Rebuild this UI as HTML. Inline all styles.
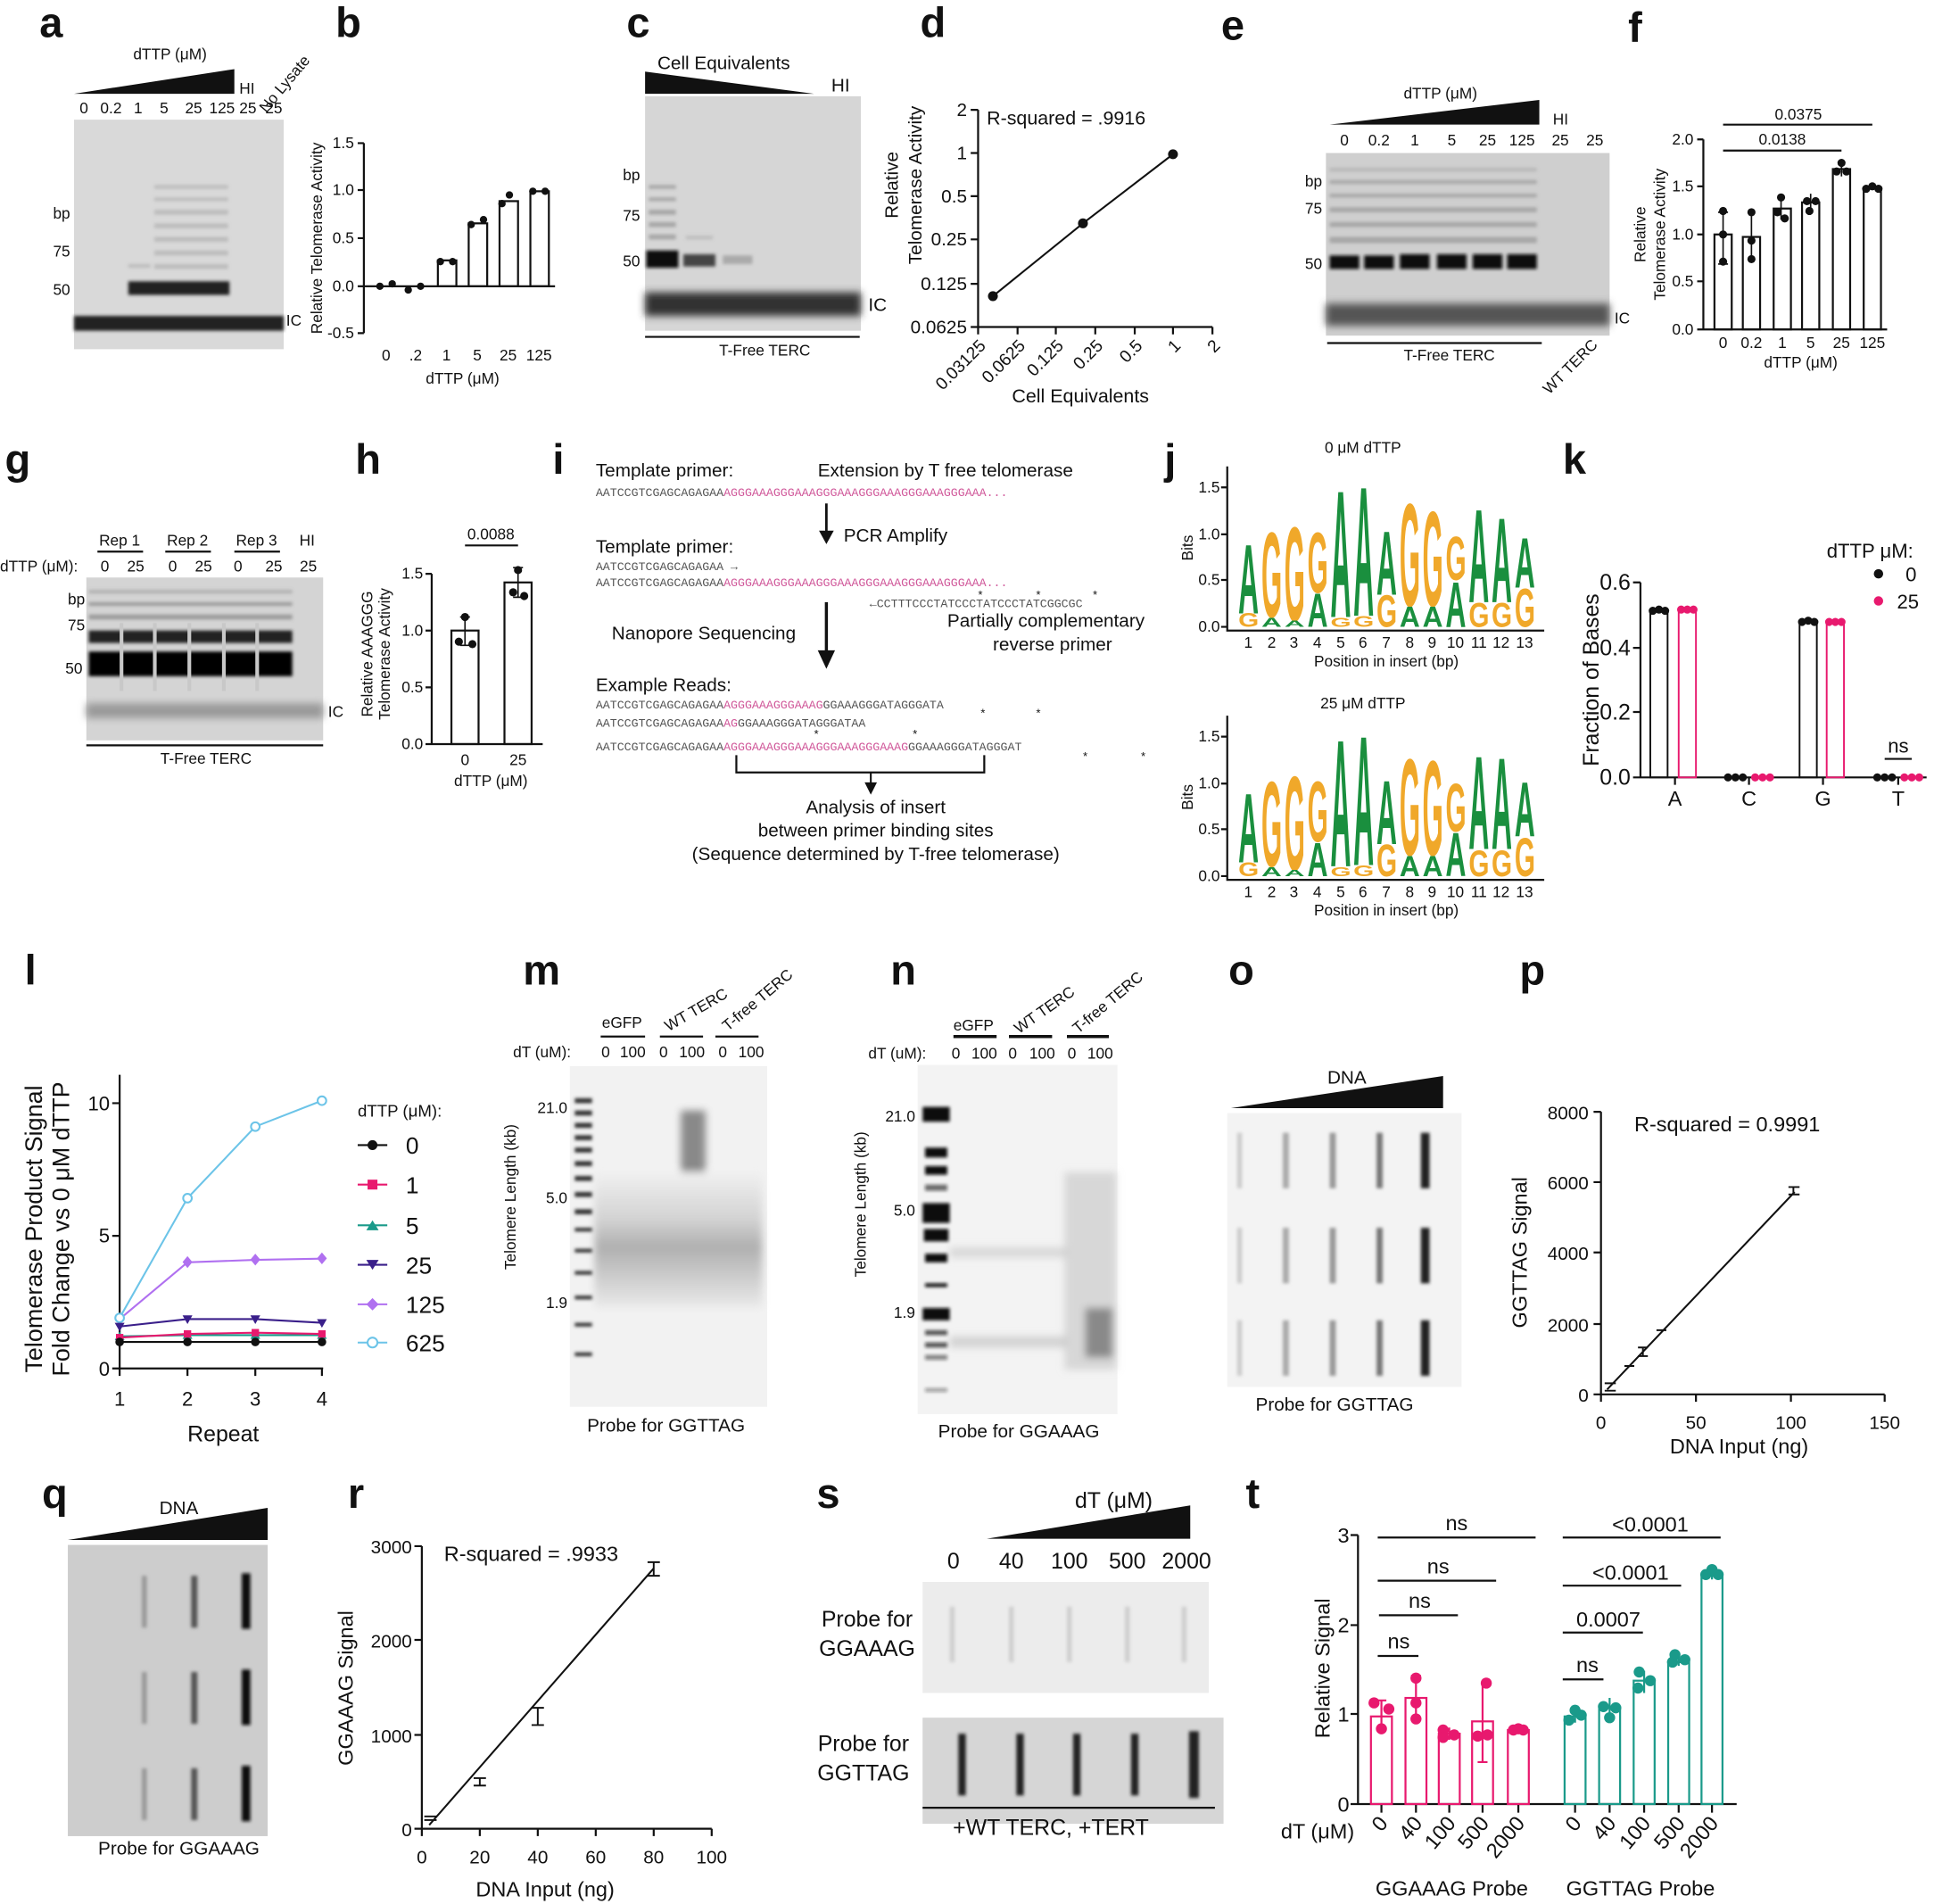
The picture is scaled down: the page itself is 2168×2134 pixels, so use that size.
<!DOCTYPE html>
<html><head><meta charset="utf-8"><style>
html,body{margin:0;padding:0;background:#fff}
svg{display:block}
text{font-family:"Liberation Sans",sans-serif;fill:#111}
.m{font-family:"Liberation Mono",monospace;font-size:9.6px;fill:#555}
.p{fill:#d0589a}
.L{font-size:34px;font-weight:bold}
.t{font-size:12.5px}
.s{font-size:15px}
.ax{stroke:#111;stroke-width:1.6;fill:none}
.g{font-weight:bold;fill:#1a8f3e}
.y{font-weight:bold;fill:#f0a82a}
</style></head><body>
<svg width="2168" height="2134" viewBox="0 0 1568 1543" preserveAspectRatio="none" xmlns="http://www.w3.org/2000/svg">
<defs>
<filter id="b" x="-20%" y="-50%" width="140%" height="200%"><feGaussianBlur stdDeviation="1.4"/></filter>
<filter id="b3" x="-20%" y="-50%" width="140%" height="200%"><feGaussianBlur stdDeviation="3"/></filter>
<linearGradient id="gm" x1="0" y1="0" x2="0" y2="1"><stop offset="0" stop-color="#f0f0f0"/><stop offset="0.35" stop-color="#c8c8c8"/><stop offset="0.55" stop-color="#9a9a9a"/><stop offset="1" stop-color="#e8e8e8"/></linearGradient>
</defs>
<rect width="1568" height="1543" fill="#fff"/>

<!-- panel labels -->
<text class="L" x="32" y="30">a</text><text class="L" x="272" y="30">b</text><text class="L" x="508" y="30">c</text><text class="L" x="746" y="30">d</text><text class="L" x="990" y="32">e</text><text class="L" x="1320" y="34">f</text>
<text class="L" x="4" y="384">g</text><text class="L" x="288" y="384">h</text><text class="L" x="448" y="384">i</text><text class="L" x="944" y="384">j</text><text class="L" x="1267" y="384">k</text>
<text class="L" x="20" y="798">l</text><text class="L" x="424" y="798">m</text><text class="L" x="722" y="798">n</text><text class="L" x="996" y="798">o</text><text class="L" x="1232" y="798">p</text>
<text class="L" x="34" y="1222">q</text><text class="L" x="282" y="1222">r</text><text class="L" x="662" y="1222">s</text><text class="L" x="1010" y="1222">t</text>

<!-- a -->
<text class="t" x="108" y="48">dTTP (μM)</text>
<polygon points="60,76 190,56 190,76" fill="#111"/>
<text class="t" x="194" y="76">HI</text>
<text class="t" transform="translate(216,92) rotate(-50)">No Lysate</text>
<g class="t" text-anchor="middle"><text x="68" y="92">0</text><text x="90" y="92">0.2</text><text x="112" y="92">1</text><text x="133" y="92">5</text><text x="157" y="92">25</text><text x="180" y="92">125</text><text x="201" y="92">25</text><text x="222" y="92">25</text></g>
<rect x="60" y="97" width="170" height="186" fill="#d9d9d9"/>
<g filter="url(#b)">
<g fill="#222"><rect x="60" y="256" width="170" height="12"/></g>
<g fill="#222"><rect x="104" y="228" width="82" height="11"/></g>
<g fill="#999" opacity="0.45"><rect x="125" y="214" width="60" height="4"/><rect x="125" y="203" width="60" height="4"/><rect x="125" y="192" width="60" height="4"/><rect x="125" y="181" width="60" height="4"/><rect x="125" y="170" width="60" height="4"/><rect x="125" y="160" width="60" height="3"/><rect x="125" y="150" width="60" height="3"/><rect x="104" y="214" width="18" height="3"/></g>
</g>
<text class="t" x="43" y="177">bp</text><text class="t" x="43" y="208">75</text><text class="t" x="43" y="239">50</text><text class="t" x="232" y="264">IC</text>

<!-- b -->
<path class="ax" d="M295,116 V270 M290,116 H295 M290,154 H295 M290,193 H295 M290,232 H295 M290,270 H295 M295,232 H450"/>
<g class="t" text-anchor="end"><text x="287" y="120">1.5</text><text x="287" y="158">1.0</text><text x="287" y="197">0.5</text><text x="287" y="236">0.0</text><text x="287" y="274">-0.5</text></g>
<g class="ax"><rect x="355" y="211" width="15" height="21"/><rect x="380" y="181" width="15" height="51"/><rect x="405" y="163" width="15" height="69"/><rect x="430" y="155" width="15" height="77"/></g>
<g fill="#111"><circle cx="308" cy="232" r="3"/><circle cx="318" cy="230" r="3"/><circle cx="331" cy="235" r="3"/><circle cx="341" cy="232" r="3"/><circle cx="357" cy="212" r="3"/><circle cx="367" cy="212" r="3"/><circle cx="382" cy="182" r="3"/><circle cx="392" cy="178" r="3"/><circle cx="407" cy="165" r="3"/><circle cx="413" cy="158" r="3"/><circle cx="432" cy="155" r="3"/><circle cx="442" cy="155" r="3"/></g>
<g class="t" text-anchor="middle"><text x="313" y="292">0</text><text x="337" y="292">.2</text><text x="362" y="292">1</text><text x="387" y="292">5</text><text x="412" y="292">25</text><text x="437" y="292">125</text></g>
<text class="t" x="375" y="311" text-anchor="middle">dTTP (μM)</text>
<text class="t" transform="translate(261,193) rotate(-90)" text-anchor="middle">Relative Telomerase Activity</text>

<!-- c -->
<text class="s" x="533" y="56">Cell Equivalents</text>
<polygon points="523,58 523,76 660,76" fill="#111"/>
<text class="s" x="674" y="74">HI</text>
<rect x="523" y="78" width="175" height="190" fill="#d6d6d6"/>
<g filter="url(#b3)"><rect x="523" y="237" width="175" height="19" fill="#333"/></g>
<g filter="url(#b)"><rect x="524" y="203" width="26" height="14" fill="#111"/><rect x="554" y="206" width="26" height="10" fill="#444"/><rect x="586" y="207" width="24" height="7" fill="#aaa"/>
<g fill="#888" opacity=".6"><rect x="526" y="190" width="22" height="4"/><rect x="526" y="180" width="22" height="4"/><rect x="526" y="170" width="22" height="4"/><rect x="526" y="160" width="22" height="3"/><rect x="526" y="150" width="22" height="3"/><rect x="556" y="191" width="22" height="3" opacity=".5"/></g></g>
<text class="t" x="505" y="146">bp</text><text class="t" x="505" y="179">75</text><text class="t" x="505" y="216">50</text><text class="s" x="704" y="252">IC</text>
<path class="ax" d="M523,273 H697"/><text class="t" x="620" y="288" text-anchor="middle">T-Free TERC</text>

<!-- d -->
<path class="ax" d="M793,89 V265 H983 M787,89 H793 M787,124 H793 M787,159 H793 M787,194 H793 M787,230 H793 M787,265 H793 M793,265 V271 M825,265 V271 M856,265 V271 M888,265 V271 M920,265 V271 M951,265 V271 M983,265 V271"/>
<g text-anchor="end" font-size="15"><text x="784" y="94">2</text><text x="784" y="129">1</text><text x="784" y="164">0.5</text><text x="784" y="199">0.25</text><text x="784" y="235">0.125</text><text x="784" y="270">0.0625</text></g>
<g text-anchor="end" font-size="14"><text transform="translate(800,281) rotate(-45)">0.03125</text><text transform="translate(832,281) rotate(-45)">0.0625</text><text transform="translate(863,281) rotate(-45)">0.125</text><text transform="translate(895,281) rotate(-45)">0.25</text><text transform="translate(927,281) rotate(-45)">0.5</text><text transform="translate(958,281) rotate(-45)">1</text><text transform="translate(990,281) rotate(-45)">2</text></g>
<text x="800" y="101" font-size="15.5">R-squared = .9916</text>
<path d="M805,240 L878,181 L951,125" stroke="#111" stroke-width="1.5" fill="none"/>
<g fill="#111"><circle cx="805" cy="240" r="4"/><circle cx="878" cy="181" r="4"/><circle cx="951" cy="125" r="4"/></g>
<text x="876" y="326" text-anchor="middle" font-size="15.5">Cell Equivalents</text>
<text font-size="15" transform="translate(728,150) rotate(-90)" text-anchor="middle">Relative</text>
<text font-size="15" transform="translate(747,150) rotate(-90)" text-anchor="middle">Telomerase Activity</text>

<!-- e -->
<text class="t" x="1138" y="80">dTTP (μM)</text>
<polygon points="1078,101 1248,81 1248,101" fill="#111"/>
<text class="t" x="1259" y="101">HI</text>
<g class="t" text-anchor="middle"><text x="1090" y="118">0</text><text x="1118" y="118">0.2</text><text x="1147" y="118">1</text><text x="1177" y="118">5</text><text x="1206" y="118">25</text><text x="1234" y="118">125</text><text x="1265" y="118">25</text><text x="1293" y="118">25</text></g>
<rect x="1075" y="124" width="230" height="148" fill="#cfcfcf"/>
<g filter="url(#b3)"><rect x="1075" y="246" width="230" height="18" fill="#555"/></g>
<g filter="url(#b)"><g fill="#111"><rect x="1078" y="207" width="24" height="11"/><rect x="1106" y="207" width="24" height="11"/><rect x="1135" y="206" width="24" height="12"/><rect x="1165" y="206" width="24" height="12"/><rect x="1194" y="206" width="24" height="12"/><rect x="1222" y="206" width="24" height="12"/></g>
<g fill="#777" opacity=".45"><rect x="1078" y="192" width="168" height="5"/><rect x="1078" y="180" width="168" height="4"/><rect x="1078" y="168" width="168" height="4"/><rect x="1078" y="157" width="168" height="3"/><rect x="1078" y="146" width="168" height="3"/><rect x="1078" y="136" width="168" height="3" opacity=".6"/></g></g>
<text class="t" x="1058" y="151">bp</text><text class="t" x="1058" y="173">75</text><text class="t" x="1058" y="218">50</text><text class="t" x="1309" y="262">IC</text>
<path class="ax" d="M1076,278 H1250"/><text class="t" x="1175" y="292" text-anchor="middle">T-Free TERC</text>
<text class="t" transform="translate(1256,320) rotate(-45)">WT TERC</text>

<!-- f -->
<path class="ax" d="M1381,113 V267 H1530 M1376,113 H1381 M1376,151 H1381 M1376,190 H1381 M1376,228 H1381 M1376,267 H1381"/>
<g class="t" text-anchor="end"><text x="1373" y="117">2.0</text><text x="1373" y="155">1.5</text><text x="1373" y="194">1.0</text><text x="1373" y="232">0.5</text><text x="1373" y="271">0.0</text></g>
<g class="ax"><rect x="1390" y="190" width="14" height="77"/><rect x="1413" y="192" width="14" height="75"/><rect x="1438" y="169" width="14" height="98"/><rect x="1461" y="164" width="14" height="103"/><rect x="1486" y="137" width="14" height="130"/><rect x="1511" y="152" width="14" height="115"/></g>
<g stroke="#111" stroke-width="1.2"><path d="M1397,172 V214 M1393,172 H1401 M1393,214 H1401 M1420,172 V212 M1444,160 V178 M1468,157 V171 M1493,131 V143 M1518,150 V154"/></g>
<g fill="#111"><circle cx="1397" cy="171" r="3.3"/><circle cx="1397" cy="190" r="3.3"/><circle cx="1397" cy="212" r="3.3"/><circle cx="1420" cy="172" r="3.3"/><circle cx="1420" cy="195" r="3.3"/><circle cx="1420" cy="210" r="3.3"/><circle cx="1444" cy="160" r="3.3"/><circle cx="1441" cy="172" r="3.3"/><circle cx="1447" cy="177" r="3.3"/><circle cx="1465" cy="163" r="3.3"/><circle cx="1472" cy="163" r="3.3"/><circle cx="1467" cy="171" r="3.3"/><circle cx="1493" cy="132" r="3.3"/><circle cx="1489" cy="139" r="3.3"/><circle cx="1497" cy="139" r="3.3"/><circle cx="1513" cy="153" r="3.3"/><circle cx="1518" cy="151" r="3.3"/><circle cx="1523" cy="153" r="3.3"/></g>
<path class="ax" d="M1397,101 H1518 M1397,122 H1493"/>
<text class="t" x="1458" y="97" text-anchor="middle">0.0375</text><text class="t" x="1445" y="117" text-anchor="middle">0.0138</text>
<g class="t" text-anchor="middle"><text x="1397" y="282">0</text><text x="1420" y="282">0.2</text><text x="1445" y="282">1</text><text x="1468" y="282">5</text><text x="1493" y="282">25</text><text x="1518" y="282">125</text></g>
<text class="t" x="1460" y="298" text-anchor="middle">dTTP (μM)</text>
<text class="t" transform="translate(1334,190) rotate(-90)" text-anchor="middle">Relative</text>
<text class="t" transform="translate(1350,190) rotate(-90)" text-anchor="middle">Telomerase Activity</text>

<!-- g -->
<g class="t" text-anchor="middle"><text x="97" y="442">Rep 1</text><text x="152" y="442">Rep 2</text><text x="208" y="442">Rep 3</text><text x="249" y="442">HI</text></g>
<path class="ax" d="M79,447 H116 M134,447 H171 M190,447 H227"/>
<text class="t" x="0" y="463">dTTP (μM):</text>
<g class="t" text-anchor="middle"><text x="85" y="463">0</text><text x="110" y="463">25</text><text x="140" y="463">0</text><text x="165" y="463">25</text><text x="193" y="463">0</text><text x="222" y="463">25</text><text x="250" y="463">25</text></g>
<rect x="70" y="468" width="192" height="132" fill="#d4d4d4"/>
<g filter="url(#b)"><rect x="72" y="528" width="165" height="20" fill="#000"/><rect x="72" y="511" width="165" height="10" fill="#222"/>
<g fill="#777" opacity=".6"><rect x="72" y="498" width="165" height="4"/><rect x="72" y="488" width="165" height="3"/><rect x="72" y="478" width="165" height="3" opacity=".6"/></g></g>
<g filter="url(#b3)"><rect x="70" y="570" width="192" height="12" fill="#999"/></g>
<g fill="#c8c8c8"><rect x="97" y="505" width="3" height="55"/><rect x="124" y="505" width="3" height="55"/><rect x="152" y="505" width="3" height="55"/><rect x="180" y="505" width="3" height="55"/><rect x="207" y="505" width="3" height="55"/></g>
<text class="t" x="55" y="490">bp</text><text class="t" x="55" y="511">75</text><text class="t" x="53" y="546">50</text><text class="t" x="266" y="581">IC</text>
<path class="ax" d="M70,604 H262"/><text class="t" x="167" y="619" text-anchor="middle">T-Free TERC</text>

<!-- h -->
<path class="ax" d="M350,465 V603 H440 M345,465 H350 M345,511 H350 M345,557 H350 M345,603 H350"/>
<g class="t" text-anchor="end" font-size="11"><text x="343" y="469">1.5</text><text x="343" y="515">1.0</text><text x="343" y="561">0.5</text><text x="343" y="607">0.0</text></g>
<g class="ax"><rect x="366" y="511" width="22" height="92"/><rect x="409" y="472" width="22" height="131"/></g>
<g stroke="#111" stroke-width="1.2"><path d="M377,500 V523 M373,500 H381 M373,523 H381 M420,460 V484 M416,460 H424 M416,484 H424"/></g>
<g fill="#111"><circle cx="377" cy="500" r="3.3"/><circle cx="372" cy="520" r="3.3"/><circle cx="383" cy="522" r="3.3"/><circle cx="420" cy="462" r="3.3"/><circle cx="416" cy="480" r="3.3"/><circle cx="425" cy="483" r="3.3"/></g>
<path class="ax" d="M377,442 H420"/><text class="t" x="398" y="437" text-anchor="middle" font-size="11">0.0088</text>
<g class="t" text-anchor="middle" font-size="11"><text x="377" y="620">0</text><text x="420" y="620">25</text></g>
<text class="t" x="398" y="637" text-anchor="middle">dTTP (μM)</text>
<text class="t" font-size="11" transform="translate(302,530) rotate(-90)" text-anchor="middle">Relative AAAGGG</text>
<text class="t" font-size="11" transform="translate(316,530) rotate(-90)" text-anchor="middle">Telomerase Activity</text>

<!-- i -->
<text class="s" x="483" y="386">Template primer:</text><text class="s" x="663" y="386">Extension by T free telomerase</text>
<text class="m" x="483" y="402">AATCCGTCGAGCAGAGAA<tspan class="p">AGGGAAAGGGAAAGGGAAAGGGAAAGGGAAAGGGAAA...</tspan></text>
<path d="M670,408 V432" stroke="#111" stroke-width="2"/><polygon points="664,430 676,430 670,441" fill="#111"/>
<text class="s" x="684" y="439">PCR Amplify</text>
<text class="s" x="483" y="448">Template primer:</text>
<text class="m" x="483" y="462">AATCCGTCGAGCAGAGAA →</text>
<text class="m" x="483" y="475">AATCCGTCGAGCAGAGAA<tspan class="p">AGGGAAAGGGAAAGGGAAAGGGAAAGGGAAAGGGAAA...</tspan></text>
<g class="m" fill="#111"><text x="793" y="485">*</text><text x="840" y="485">*</text><text x="886" y="485">*</text></g>
<text class="m" x="705" y="492">←CCTTTCCCTATCCCTATCCCTATCGGCGC</text>
<text class="s" x="768" y="508">Partially complementary</text><text class="s" x="805" y="527">reverse primer</text>
<text class="s" x="496" y="518">Nanopore Sequencing</text>
<path d="M670,488 V530" stroke="#111" stroke-width="2.5"/><polygon points="663,527 677,527 670,542" fill="#111"/>
<text class="s" x="483" y="560">Example Reads:</text>
<text class="m" x="483" y="574">AATCCGTCGAGCAGAGAA<tspan class="p">AGGGAAAGGGAAAG</tspan>GGAAAGGGATAGGGATA</text>
<text class="m" x="483" y="589">AATCCGTCGAGCAGAGAA<tspan class="p">AG</tspan>GGAAAGGGATAGGGATAA</text>
<text class="m" x="483" y="608">AATCCGTCGAGCAGAGAA<tspan class="p">AGGGAAAGGGAAAGGGAAAGGGAAAG</tspan>GGAAAGGGATAGGGAT</text>
<g class="m" fill="#111"><text x="795" y="581">*</text><text x="840" y="581">*</text><text x="660" y="598">*</text><text x="740" y="598">*</text><text x="878" y="616">*</text><text x="925" y="616">*</text></g>
<path class="ax" d="M597,612 V626 H798 V612"/>
<path d="M706,626 V636" stroke="#111" stroke-width="1.5"/><polygon points="701,634 711,634 706,644" fill="#111"/>
<g class="s" text-anchor="middle" font-size="14"><text x="710" y="659">Analysis of insert</text><text x="710" y="678">between primer binding sites</text><text x="710" y="697">(Sequence determined by T-free telomerase)</text></g>

<!-- j logos -->
<text class="t" x="1105" y="367" text-anchor="middle" font-size="15">0 μM dTTP</text>
<text class="t" x="1105" y="574" text-anchor="middle" font-size="15">25 μM dTTP</text>
<g>
<path class="ax" d="M995,378 V511 H1252 M990,395 H995 M990,433 H995 M990,470 H995 M990,508 H995"/>
<g class="t" text-anchor="end"><text x="989" y="399">1.5</text><text x="989" y="437">1.0</text><text x="989" y="474">0.5</text><text x="989" y="512">0.0</text></g>
<text class="t" transform="translate(967,444) rotate(-90)" text-anchor="middle" font-size="11">Bits</text>
<g class="t" text-anchor="middle" font-size="11.5"><text x="1012" y="525">1</text><text x="1031" y="525">2</text><text x="1049" y="525">3</text><text x="1068" y="525">4</text><text x="1087" y="525">5</text><text x="1105" y="525">6</text><text x="1124" y="525">7</text><text x="1143" y="525">8</text><text x="1161" y="525">9</text><text x="1180" y="525">10</text><text x="1199" y="525">11</text><text x="1217" y="525">12</text><text x="1236" y="525">13</text></g>
<text class="t" x="1124" y="540" text-anchor="middle">Position in insert (bp)</text>
</g>
<g font-size="10">
<text class="g" transform="translate(1004,497) scale(2.3,7.98)" textLength="7.2" lengthAdjust="spacingAndGlyphs">A</text>
<text class="y" transform="translate(1004,508) scale(2.2,1.58)" textLength="7.6" lengthAdjust="spacingAndGlyphs">G</text>
<text class="y" transform="translate(1022.7,500) scale(2.2,9.86)" textLength="7.6" lengthAdjust="spacingAndGlyphs">G</text>
<text class="g" transform="translate(1022.7,508) scale(2.3,1.05)" textLength="7.2" lengthAdjust="spacingAndGlyphs">A</text>
<text class="y" transform="translate(1041.3,503) scale(2.2,10.9)" textLength="7.6" lengthAdjust="spacingAndGlyphs">G</text>
<text class="g" transform="translate(1041.3,508) scale(2.3,0.74)" textLength="7.2" lengthAdjust="spacingAndGlyphs">A</text>
<text class="y" transform="translate(1060,480) scale(2.2,6.95)" textLength="7.6" lengthAdjust="spacingAndGlyphs">G</text>
<text class="g" transform="translate(1060,508) scale(2.3,3.89)" textLength="7.2" lengthAdjust="spacingAndGlyphs">A</text>
<text class="g" transform="translate(1078.7,500) scale(2.3,14.7)" textLength="7.2" lengthAdjust="spacingAndGlyphs">A</text>
<text class="y" transform="translate(1078.7,508) scale(2.2,1.05)" textLength="7.6" lengthAdjust="spacingAndGlyphs">G</text>
<text class="g" transform="translate(1097.3,499) scale(2.3,15.0)" textLength="7.2" lengthAdjust="spacingAndGlyphs">A</text>
<text class="y" transform="translate(1097.3,508) scale(2.2,1.26)" textLength="7.6" lengthAdjust="spacingAndGlyphs">G</text>
<text class="g" transform="translate(1116,482) scale(2.3,7.4)" textLength="7.2" lengthAdjust="spacingAndGlyphs">A</text>
<text class="y" transform="translate(1116,508) scale(2.2,3.68)" textLength="7.6" lengthAdjust="spacingAndGlyphs">G</text>
<text class="y" transform="translate(1134.7,491) scale(2.2,11.9)" textLength="7.6" lengthAdjust="spacingAndGlyphs">G</text>
<text class="g" transform="translate(1134.7,508) scale(2.3,2.31)" textLength="7.2" lengthAdjust="spacingAndGlyphs">A</text>
<text class="y" transform="translate(1153.3,491) scale(2.2,11.0)" textLength="7.6" lengthAdjust="spacingAndGlyphs">G</text>
<text class="g" transform="translate(1153.3,508) scale(2.3,2.31)" textLength="7.2" lengthAdjust="spacingAndGlyphs">A</text>
<text class="y" transform="translate(1172,470) scale(2.2,5.04)" textLength="7.6" lengthAdjust="spacingAndGlyphs">G</text>
<text class="g" transform="translate(1172,508) scale(2.3,5.26)" textLength="7.2" lengthAdjust="spacingAndGlyphs">A</text>
<text class="g" transform="translate(1190.7,488) scale(2.3,10.8)" textLength="7.2" lengthAdjust="spacingAndGlyphs">A</text>
<text class="y" transform="translate(1190.7,508) scale(2.2,2.84)" textLength="7.6" lengthAdjust="spacingAndGlyphs">G</text>
<text class="g" transform="translate(1209.3,488) scale(2.3,9.8)" textLength="7.2" lengthAdjust="spacingAndGlyphs">A</text>
<text class="y" transform="translate(1209.3,508) scale(2.2,2.84)" textLength="7.6" lengthAdjust="spacingAndGlyphs">G</text>
<text class="g" transform="translate(1228,476) scale(2.3,5.8)" textLength="7.2" lengthAdjust="spacingAndGlyphs">A</text>
<text class="y" transform="translate(1228,508) scale(2.2,4.42)" textLength="7.6" lengthAdjust="spacingAndGlyphs">G</text>
</g>
<g transform="translate(0,202)">
<path class="ax" d="M995,378 V511 H1252 M990,395 H995 M990,433 H995 M990,470 H995 M990,508 H995"/>
<g class="t" text-anchor="end"><text x="989" y="399">1.5</text><text x="989" y="437">1.0</text><text x="989" y="474">0.5</text><text x="989" y="512">0.0</text></g>
<text class="t" transform="translate(967,444) rotate(-90)" text-anchor="middle" font-size="11">Bits</text>
<g class="t" text-anchor="middle" font-size="11.5"><text x="1012" y="525">1</text><text x="1031" y="525">2</text><text x="1049" y="525">3</text><text x="1068" y="525">4</text><text x="1087" y="525">5</text><text x="1105" y="525">6</text><text x="1124" y="525">7</text><text x="1143" y="525">8</text><text x="1161" y="525">9</text><text x="1180" y="525">10</text><text x="1199" y="525">11</text><text x="1217" y="525">12</text><text x="1236" y="525">13</text></g>
<text class="t" x="1124" y="540" text-anchor="middle">Position in insert (bp)</text>
</g>
<g transform="translate(0,202)" font-size="10">
<text class="g" transform="translate(1004,497) scale(2.3,7.98)" textLength="7.2" lengthAdjust="spacingAndGlyphs">A</text>
<text class="y" transform="translate(1004,508) scale(2.2,1.58)" textLength="7.6" lengthAdjust="spacingAndGlyphs">G</text>
<text class="y" transform="translate(1022.7,500) scale(2.2,9.86)" textLength="7.6" lengthAdjust="spacingAndGlyphs">G</text>
<text class="g" transform="translate(1022.7,508) scale(2.3,1.05)" textLength="7.2" lengthAdjust="spacingAndGlyphs">A</text>
<text class="y" transform="translate(1041.3,503) scale(2.2,10.9)" textLength="7.6" lengthAdjust="spacingAndGlyphs">G</text>
<text class="g" transform="translate(1041.3,508) scale(2.3,0.74)" textLength="7.2" lengthAdjust="spacingAndGlyphs">A</text>
<text class="y" transform="translate(1060,480) scale(2.2,6.95)" textLength="7.6" lengthAdjust="spacingAndGlyphs">G</text>
<text class="g" transform="translate(1060,508) scale(2.3,3.89)" textLength="7.2" lengthAdjust="spacingAndGlyphs">A</text>
<text class="g" transform="translate(1078.7,500) scale(2.3,14.7)" textLength="7.2" lengthAdjust="spacingAndGlyphs">A</text>
<text class="y" transform="translate(1078.7,508) scale(2.2,1.05)" textLength="7.6" lengthAdjust="spacingAndGlyphs">G</text>
<text class="g" transform="translate(1097.3,499) scale(2.3,15.0)" textLength="7.2" lengthAdjust="spacingAndGlyphs">A</text>
<text class="y" transform="translate(1097.3,508) scale(2.2,1.26)" textLength="7.6" lengthAdjust="spacingAndGlyphs">G</text>
<text class="g" transform="translate(1116,482) scale(2.3,7.4)" textLength="7.2" lengthAdjust="spacingAndGlyphs">A</text>
<text class="y" transform="translate(1116,508) scale(2.2,3.68)" textLength="7.6" lengthAdjust="spacingAndGlyphs">G</text>
<text class="y" transform="translate(1134.7,491) scale(2.2,11.2)" textLength="7.6" lengthAdjust="spacingAndGlyphs">G</text>
<text class="g" transform="translate(1134.7,508) scale(2.3,2.31)" textLength="7.2" lengthAdjust="spacingAndGlyphs">A</text>
<text class="y" transform="translate(1153.3,491) scale(2.2,11.0)" textLength="7.6" lengthAdjust="spacingAndGlyphs">G</text>
<text class="g" transform="translate(1153.3,508) scale(2.3,2.31)" textLength="7.2" lengthAdjust="spacingAndGlyphs">A</text>
<text class="y" transform="translate(1172,472) scale(2.2,5.6)" textLength="7.6" lengthAdjust="spacingAndGlyphs">G</text>
<text class="g" transform="translate(1172,508) scale(2.3,5.0)" textLength="7.2" lengthAdjust="spacingAndGlyphs">A</text>
<text class="g" transform="translate(1190.7,486) scale(2.3,10.8)" textLength="7.2" lengthAdjust="spacingAndGlyphs">A</text>
<text class="y" transform="translate(1190.7,508) scale(2.2,3.0)" textLength="7.6" lengthAdjust="spacingAndGlyphs">G</text>
<text class="g" transform="translate(1209.3,486) scale(2.3,10.6)" textLength="7.2" lengthAdjust="spacingAndGlyphs">A</text>
<text class="y" transform="translate(1209.3,508) scale(2.2,3.0)" textLength="7.6" lengthAdjust="spacingAndGlyphs">G</text>
<text class="g" transform="translate(1228,476) scale(2.3,6.3)" textLength="7.2" lengthAdjust="spacingAndGlyphs">A</text>
<text class="y" transform="translate(1228,508) scale(2.2,4.42)" textLength="7.6" lengthAdjust="spacingAndGlyphs">G</text>
</g>

<!-- k -->
<path class="ax" d="M1330,472 V630 H1562 M1324,472 H1330 M1324,525 H1330 M1324,577 H1330 M1324,630 H1330 M1358,630 V636 M1418,630 V636 M1478,630 V636 M1539,630 V636"/>
<g text-anchor="end" font-size="18"><text x="1322" y="478">0.6</text><text x="1322" y="531">0.4</text><text x="1322" y="583">0.2</text><text x="1322" y="636">0.0</text></g>
<text font-size="18" transform="translate(1296,551) rotate(-90)" text-anchor="middle">Fraction of Bases</text>
<rect x="1338" y="495" width="14" height="135" fill="none" stroke="#111" stroke-width="1.4"/>
<rect x="1361" y="495" width="14" height="135" fill="none" stroke="#e8196e" stroke-width="1.4"/>
<rect x="1459" y="504" width="14" height="126" fill="none" stroke="#111" stroke-width="1.4"/>
<rect x="1481" y="504" width="14" height="126" fill="none" stroke="#e8196e" stroke-width="1.4"/>
<g fill="#111"><circle cx="1340" cy="495" r="3.3"/><circle cx="1345" cy="494" r="3.3"/><circle cx="1350" cy="495" r="3.3"/><circle cx="1401" cy="630" r="3.3"/><circle cx="1407" cy="630" r="3.3"/><circle cx="1413" cy="630" r="3.3"/><circle cx="1461" cy="504" r="3.3"/><circle cx="1466" cy="503" r="3.3"/><circle cx="1471" cy="504" r="3.3"/><circle cx="1522" cy="630" r="3.3"/><circle cx="1528" cy="630" r="3.3"/><circle cx="1534" cy="630" r="3.3"/></g>
<g fill="#e8196e"><circle cx="1363" cy="494" r="3.3"/><circle cx="1368" cy="494" r="3.3"/><circle cx="1373" cy="494" r="3.3"/><circle cx="1423" cy="630" r="3.3"/><circle cx="1429" cy="630" r="3.3"/><circle cx="1435" cy="630" r="3.3"/><circle cx="1483" cy="504" r="3.3"/><circle cx="1488" cy="504" r="3.3"/><circle cx="1493" cy="504" r="3.3"/><circle cx="1544" cy="630" r="3.3"/><circle cx="1550" cy="630" r="3.3"/><circle cx="1556" cy="630" r="3.3"/></g>
<g text-anchor="middle" font-size="17"><text x="1358" y="653">A</text><text x="1418" y="653">C</text><text x="1478" y="653">G</text><text x="1539" y="653">T</text></g>
<path class="ax" d="M1528,615 H1550"/><text x="1539" y="610" text-anchor="middle" font-size="16">ns</text>
<text x="1481" y="452" font-size="16">dTTP μM:</text>
<circle cx="1523" cy="465" r="3.8" fill="#111"/><text x="1545" y="471" font-size="16">0</text>
<circle cx="1523" cy="487" r="3.8" fill="#e8196e"/><text x="1538" y="493" font-size="16">25</text>

<!-- l -->
<path class="ax" d="M97,871 V1109 H262 M91,894 H97 M91,1001.5 H97 M91,1109 H97 M97,1109 V1115 M152,1109 V1115 M207,1109 V1115 M261,1109 V1115"/>
<g text-anchor="end" font-size="16"><text x="89" y="900">10</text><text x="89" y="1007">5</text><text x="89" y="1115">0</text></g>
<g text-anchor="middle" font-size="16"><text x="97" y="1139">1</text><text x="152" y="1139">2</text><text x="207" y="1139">3</text><text x="261" y="1139">4</text></g>
<text x="181" y="1168" text-anchor="middle" font-size="18">Repeat</text>
<text font-size="19.5" transform="translate(34,996) rotate(-90)" text-anchor="middle">Telomerase Product Signal</text>
<text font-size="19.5" transform="translate(56,996) rotate(-90)" text-anchor="middle">Fold Change vs 0 μM dTTP</text>
<g fill="none" stroke-width="1.5">
<path d="M97,1068 L152,971 L207,913 L261,892" stroke="#6cc4e8"/>
<path d="M97,1069 L152,1023 L207,1021 L261,1020" stroke="#b070f0"/>
<path d="M97,1075 L152,1069 L207,1069 L261,1072" stroke="#3a1f8a"/>
<path d="M97,1083 L152,1082 L207,1082 L261,1082" stroke="#1a9a8a"/>
<path d="M97,1084 L152,1081 L207,1080 L261,1081" stroke="#e8196e"/>
<path d="M97,1087.5 L261,1087.5" stroke="#111"/>
</g>
<g fill="#b070f0"><path d="M97,1064 l4,4.8 -4,4.8 -4,-4.8z M152,1018 l4,4.8 -4,4.8 -4,-4.8z M207,1016 l4,4.8 -4,4.8 -4,-4.8z M261,1015 l4,4.8 -4,4.8 -4,-4.8z"/></g>
<g fill="#fff" stroke="#6cc4e8" stroke-width="1.5"><circle cx="97" cy="1068" r="3.5"/><circle cx="152" cy="971" r="3.5"/><circle cx="207" cy="913" r="3.5"/><circle cx="261" cy="892" r="3.5"/></g>
<g fill="#3a1f8a"><path d="M93,1072 h8 l-4,7z M148,1066 h8 l-4,7z M203,1066 h8 l-4,7z M257,1069 h8 l-4,7z"/></g>
<g fill="#1a9a8a"><path d="M93,1086 h8 l-4,-7z M148,1085 h8 l-4,-7z M203,1085 h8 l-4,-7z M257,1085 h8 l-4,-7z"/></g>
<g fill="#e8196e"><rect x="94" y="1081" width="6" height="6"/><rect x="149" y="1078" width="6" height="6"/><rect x="204" y="1077" width="6" height="6"/><rect x="258" y="1078" width="6" height="6"/></g>
<g fill="#111"><circle cx="97" cy="1087.5" r="3.5"/><circle cx="152" cy="1087.5" r="3.5"/><circle cx="207" cy="1087.5" r="3.5"/><circle cx="261" cy="1087.5" r="3.5"/></g>
<text x="290" y="905" font-size="13.5">dTTP (μM):</text>
<g font-size="19"><text x="329" y="935">0</text><text x="329" y="967">1</text><text x="329" y="1000">5</text><text x="329" y="1032">25</text><text x="329" y="1064">125</text><text x="329" y="1095">625</text></g>
<g stroke-width="1.5"><path d="M290,928 H314" stroke="#111"/><path d="M290,960 H314" stroke="#e8196e"/><path d="M290,993 H314" stroke="#1a9a8a"/><path d="M290,1025 H314" stroke="#3a1f8a"/><path d="M290,1057 H314" stroke="#b070f0"/><path d="M290,1088 H314" stroke="#6cc4e8"/></g>
<circle cx="302" cy="928" r="4" fill="#111"/><rect x="298" y="956" width="8" height="8" fill="#e8196e"/><path d="M297,997 h10 l-5,-8z" fill="#1a9a8a"/><path d="M297,1021 h10 l-5,8z" fill="#3a1f8a"/><path d="M302,1052 l5,5 -5,5 -5,-5z" fill="#b070f0"/><circle cx="302" cy="1088" r="4" fill="#fff" stroke="#6cc4e8" stroke-width="1.5"/>

<!-- m -->
<text class="t" x="488" y="833">eGFP</text>
<text class="t" transform="translate(542,836) rotate(-30)">WT TERC</text>
<text class="t" transform="translate(590,836) rotate(-40)">T-free TERC</text>
<path class="ax" d="M487,840 H523 M535,840 H570 M580,840 H615"/>
<text class="t" x="416" y="857">dT (uM):</text>
<g class="t" text-anchor="middle"><text x="491" y="857">0</text><text x="513" y="857">100</text><text x="538" y="857">0</text><text x="561" y="857">100</text><text x="586" y="857">0</text><text x="609" y="857">100</text></g>
<rect x="462" y="864" width="160" height="276" fill="#f2f2f2"/>
<g filter="url(#b3)" opacity=".75"><rect x="482" y="950" width="136" height="110" fill="url(#gm)"/><rect x="552" y="900" width="20" height="50" fill="#666"/></g>
<g fill="#333" filter="url(#b)"><rect x="466" y="890" width="14" height="4"/><rect x="466" y="900" width="14" height="4"/><rect x="466" y="910" width="14" height="4"/><rect x="466" y="920" width="14" height="4"/><rect x="466" y="930" width="14" height="4"/><rect x="466" y="941" width="14" height="4"/><rect x="466" y="953" width="14" height="4"/><rect x="466" y="966" width="14" height="4"/><rect x="466" y="980" width="14" height="4"/><rect x="466" y="995" width="14" height="3"/><rect x="466" y="1012" width="14" height="3"/><rect x="466" y="1030" width="14" height="3"/><rect x="466" y="1050" width="14" height="3"/><rect x="466" y="1072" width="14" height="3"/><rect x="466" y="1096" width="14" height="3"/></g>
<g class="t" text-anchor="end"><text x="460" y="902">21.0</text><text x="460" y="975">5.0</text><text x="460" y="1060">1.9</text></g>
<text class="t" transform="translate(418,970) rotate(-90)" text-anchor="middle">Telomere Length (kb)</text>
<text class="s" x="540" y="1160" text-anchor="middle">Probe for GGTTAG</text>

<!-- n -->
<text class="t" x="773" y="835">eGFP</text>
<text class="t" transform="translate(826,838) rotate(-35)">WT TERC</text>
<text class="t" transform="translate(874,838) rotate(-40)">T-free TERC</text>
<path d="M773,840 H808 M818,840 H853 M865,840 H899" stroke="#111" stroke-width="2.5"/>
<text class="t" x="704" y="858">dT (uM):</text>
<g class="t" text-anchor="middle"><text x="775" y="858">0</text><text x="798" y="858">100</text><text x="821" y="858">0</text><text x="845" y="858">100</text><text x="869" y="858">0</text><text x="892" y="858">100</text></g>
<rect x="744" y="863" width="162" height="283" fill="#f3f3f3"/>
<g filter="url(#b3)"><rect x="770" y="1011" width="95" height="8" fill="#ccc" opacity=".7"/><rect x="770" y="1083" width="95" height="9" fill="#c4c4c4" opacity=".7"/><rect x="863" y="950" width="42" height="160" fill="#c4c4c4" opacity=".6"/><rect x="880" y="1060" width="22" height="40" fill="#777" opacity=".8"/></g>
<g fill="#111" filter="url(#b)"><rect x="748" y="897" width="22" height="12"/><rect x="750" y="930" width="18" height="8"/><rect x="750" y="945" width="18" height="7"/><rect x="750" y="960" width="18" height="5" opacity=".6"/><rect x="748" y="975" width="22" height="16"/><rect x="749" y="996" width="20" height="10"/><rect x="750" y="1016" width="18" height="7"/><rect x="750" y="1040" width="18" height="3"/><rect x="748" y="1060" width="22" height="10"/><rect x="750" y="1078" width="18" height="4" opacity=".7"/><rect x="750" y="1088" width="18" height="4" opacity=".7"/><rect x="750" y="1098" width="18" height="4" opacity=".5"/><rect x="750" y="1125" width="18" height="3" opacity=".4"/></g>
<g class="t" text-anchor="end"><text x="742" y="909">21.0</text><text x="742" y="985">5.0</text><text x="742" y="1068">1.9</text></g>
<text class="t" transform="translate(702,976) rotate(-90)" text-anchor="middle">Telomere Length (kb)</text>
<text class="s" x="826" y="1165" text-anchor="middle">Probe for GGAAAG</text>

<!-- o -->
<text class="s" x="1092" y="878" text-anchor="middle">DNA</text>
<polygon points="998,898 1170,872 1170,898" fill="#111"/>
<rect x="995" y="902" width="190" height="222" fill="#f3f3f3"/>
<g filter="url(#b)">
<g fill="#ccc"><rect x="1003" y="918" width="4" height="45"/><rect x="1003" y="995" width="4" height="45"/><rect x="1003" y="1070" width="4" height="45"/></g>
<g fill="#aaa"><rect x="1040" y="918" width="5" height="45"/><rect x="1040" y="995" width="5" height="45"/><rect x="1040" y="1070" width="5" height="45"/></g>
<g fill="#999"><rect x="1078" y="918" width="5" height="45"/><rect x="1078" y="995" width="5" height="45"/><rect x="1078" y="1070" width="5" height="45"/></g>
<g fill="#777"><rect x="1116" y="918" width="5" height="45"/><rect x="1116" y="995" width="5" height="45"/><rect x="1116" y="1070" width="5" height="45"/></g>
<g fill="#222"><rect x="1152" y="918" width="7" height="45"/><rect x="1152" y="995" width="7" height="45"/><rect x="1152" y="1070" width="7" height="45"/></g>
</g>
<text class="s" x="1082" y="1143" text-anchor="middle">Probe for GGTTAG</text>

<!-- p -->
<path class="ax" d="M1298,901 V1130 H1528 M1292,901 H1298 M1292,958 H1298 M1292,1015 H1298 M1292,1073 H1298 M1292,1130 H1298 M1298,1130 V1136 M1375,1130 V1136 M1452,1130 V1136 M1528,1130 V1136"/>
<g class="s" text-anchor="end" font-size="16"><text x="1288" y="907">8000</text><text x="1288" y="964">6000</text><text x="1288" y="1021">4000</text><text x="1288" y="1079">2000</text><text x="1288" y="1136">0</text></g>
<g class="s" text-anchor="middle" font-size="16"><text x="1298" y="1158">0</text><text x="1375" y="1158">50</text><text x="1452" y="1158">100</text><text x="1528" y="1158">150</text></g>
<text x="1410" y="1178" text-anchor="middle" font-size="17">DNA Input (ng)</text>
<text font-size="17" transform="translate(1238,1015) rotate(-90)" text-anchor="middle">GGTTAG Signal</text>
<text x="1325" y="917" font-size="17">R-squared = 0.9991</text>
<path d="M1303,1126 L1455,966" stroke="#111" stroke-width="1.5"/>
<g stroke="#111" stroke-width="1.4"><path d="M1301,1121 H1310 M1301,1127 H1310 M1317,1107 H1325 M1328,1092 H1336 M1328,1099 H1336 M1332,1092 V1099 M1343,1078 H1351 M1450,962 H1459 M1450,968 H1459 M1454,962 V968"/></g>

<!-- q -->
<text class="s" x="145" y="1227" text-anchor="middle">DNA</text>
<polygon points="55,1248 217,1222 217,1248" fill="#111"/>
<rect x="55" y="1252" width="162" height="236" fill="#cdcdcd"/>
<g filter="url(#b)">
<g fill="#999"><rect x="115" y="1277" width="4" height="42"/><rect x="115" y="1355" width="4" height="42"/><rect x="115" y="1433" width="4" height="42"/></g>
<g fill="#555"><rect x="155" y="1277" width="5" height="42"/><rect x="155" y="1355" width="5" height="42"/><rect x="155" y="1433" width="5" height="42"/></g>
<g fill="#111"><rect x="196" y="1275" width="7" height="45"/><rect x="196" y="1353" width="7" height="45"/><rect x="196" y="1431" width="7" height="45"/></g>
</g>
<text class="s" x="145" y="1503" text-anchor="middle">Probe for GGAAAG</text>

<!-- r -->
<path class="ax" d="M342,1253 V1482 H577 M336,1253 H342 M336,1329 H342 M336,1406 H342 M336,1482 H342 M342,1482 V1488 M389,1482 V1488 M436,1482 V1488 M483,1482 V1488 M530,1482 V1488 M577,1482 V1488"/>
<g class="s" text-anchor="end" font-size="16"><text x="334" y="1259">3000</text><text x="334" y="1335">2000</text><text x="334" y="1412">1000</text><text x="334" y="1488">0</text></g>
<g class="s" text-anchor="middle" font-size="16"><text x="342" y="1510">0</text><text x="389" y="1510">20</text><text x="436" y="1510">40</text><text x="483" y="1510">60</text><text x="530" y="1510">80</text><text x="577" y="1510">100</text></g>
<text x="442" y="1537" text-anchor="middle" font-size="17">DNA Input (ng)</text>
<text font-size="17" transform="translate(286,1368) rotate(-90)" text-anchor="middle">GGAAAG Signal</text>
<text x="360" y="1265" font-size="17">R-squared = .9933</text>
<path d="M348,1479 L530,1271" stroke="#111" stroke-width="1.5"/>
<g stroke="#111" stroke-width="1.4"><path d="M344,1472 H354 M344,1475 H354 M384,1441 H394 M384,1447 H394 M389,1441 V1447 M431,1384 H441 M431,1398 H441 M436,1384 V1398 M525,1266 H535 M525,1277 H535 M530,1266 V1277"/></g>

<!-- s -->
<text x="903" y="1222" text-anchor="middle" font-size="18">dT (μM)</text>
<polygon points="800,1247 965,1220 965,1247" fill="#111"/>
<g text-anchor="middle" font-size="18"><text x="773" y="1271">0</text><text x="820" y="1271">40</text><text x="867" y="1271">100</text><text x="914" y="1271">500</text><text x="962" y="1271">2000</text></g>
<rect x="748" y="1282" width="232" height="90" fill="#ececec"/>
<g fill="#cfcfcf" filter="url(#b)"><rect x="770" y="1302" width="4" height="45"/><rect x="818" y="1302" width="4" height="45"/><rect x="865" y="1302" width="4" height="45"/><rect x="912" y="1302" width="4" height="45"/><rect x="958" y="1302" width="4" height="45"/></g>
<rect x="748" y="1392" width="244" height="86" fill="#d6d6d6"/>
<g fill="#222" filter="url(#b)"><rect x="777" y="1405" width="6" height="50"/><rect x="824" y="1405" width="6" height="50"/><rect x="870" y="1405" width="6" height="50"/><rect x="917" y="1405" width="6" height="50"/><rect x="964" y="1403" width="8" height="54"/></g>
<g text-anchor="middle" font-size="18"><text x="703" y="1318">Probe for</text><text x="703" y="1342">GGAAAG</text><text x="700" y="1419">Probe for</text><text x="700" y="1443">GGTTAG</text></g>
<path class="ax" d="M748,1465 H985"/>
<text x="852" y="1487" text-anchor="middle" font-size="18">+WT TERC, +TERT</text>

<!-- t -->
<path class="ax" d="M1101,1244 V1462 H1408 M1095,1244 H1101 M1095,1317 H1101 M1095,1389 H1101 M1095,1462 H1101 M1120,1462 V1469 M1148,1462 V1469 M1175,1462 V1469 M1202,1462 V1469 M1231,1462 V1469 M1277,1462 V1469 M1305,1462 V1469 M1333,1462 V1469 M1361,1462 V1469 M1388,1462 V1469"/>
<g text-anchor="end" font-size="17"><text x="1094" y="1250">3</text><text x="1094" y="1323">2</text><text x="1094" y="1395">1</text><text x="1094" y="1468">0</text></g>
<text font-size="17" transform="translate(1078,1352) rotate(-90)" text-anchor="middle">Relative Signal</text>
<g fill="none" stroke="#e8196e" stroke-width="1.6"><rect x="1111.5" y="1391" width="17" height="71"/><rect x="1139.5" y="1376" width="17" height="86"/><rect x="1166.5" y="1405" width="17" height="57"/><rect x="1193.5" y="1395" width="17" height="67"/><rect x="1222.5" y="1402" width="17" height="60"/>
<path d="M1120,1378 V1403 M1116,1378 H1124 M1148,1358 V1394 M1144,1358 H1152 M1175,1400 V1410 M1202,1362 V1428 M1198,1428 H1206 M1231,1400 V1404"/></g>
<g fill="#e8196e"><circle cx="1114" cy="1380" r="4.5"/><circle cx="1126" cy="1385" r="4.5"/><circle cx="1120" cy="1401" r="4.5"/><circle cx="1148" cy="1360" r="4.5"/><circle cx="1148" cy="1380" r="4.5"/><circle cx="1148" cy="1393" r="4.5"/><circle cx="1170" cy="1402" r="4.5"/><circle cx="1179" cy="1406" r="4.5"/><circle cx="1170" cy="1408" r="4.5"/><circle cx="1205" cy="1364" r="4.5"/><circle cx="1198" cy="1407" r="4.5"/><circle cx="1206" cy="1406" r="4.5"/><circle cx="1227" cy="1402" r="4.5"/><circle cx="1235" cy="1402" r="4.5"/><circle cx="1231" cy="1401" r="4.5"/></g>
<g fill="none" stroke="#1a9a8a" stroke-width="1.6"><rect x="1268.5" y="1391" width="17" height="71"/><rect x="1296.5" y="1384" width="17" height="78"/><rect x="1324.5" y="1362" width="17" height="100"/><rect x="1352.5" y="1347" width="17" height="115"/><rect x="1379.5" y="1277" width="17" height="185"/>
<path d="M1277,1384 V1396 M1305,1376 V1388 M1333,1354 V1372 M1361,1340 V1350 M1388,1272 V1280"/></g>
<g fill="#1a9a8a"><circle cx="1272" cy="1394" r="4.5"/><circle cx="1282" cy="1390" r="4.5"/><circle cx="1277" cy="1386" r="4.5"/><circle cx="1300" cy="1383" r="4.5"/><circle cx="1310" cy="1384" r="4.5"/><circle cx="1305" cy="1392" r="4.5"/><circle cx="1328" cy="1368" r="4.5"/><circle cx="1338" cy="1362" r="4.5"/><circle cx="1329" cy="1355" r="4.5"/><circle cx="1356" cy="1347" r="4.5"/><circle cx="1366" cy="1345" r="4.5"/><circle cx="1358" cy="1341" r="4.5"/><circle cx="1383" cy="1276" r="4.5"/><circle cx="1393" cy="1276" r="4.5"/><circle cx="1388" cy="1272" r="4.5"/></g>
<path class="ax" d="M1117,1246 H1245 M1117,1281 H1213 M1118,1309 H1182 M1117,1342 H1150 M1267,1246 H1395 M1267,1285 H1363 M1267,1323 H1332 M1267,1361 H1300"/>
<g text-anchor="middle" font-size="17"><text x="1181" y="1240">ns</text><text x="1166" y="1275">ns</text><text x="1151" y="1303">ns</text><text x="1134" y="1336">ns</text><text x="1338" y="1241">&lt;0.0001</text><text x="1322" y="1280">&lt;0.0001</text><text x="1304" y="1318">0.0007</text><text x="1287" y="1355">ns</text></g>
<text x="1098" y="1490" text-anchor="end" font-size="17">dT (μM)</text>
<g font-size="17" text-anchor="end"><text transform="translate(1126,1478) rotate(-50)">0</text><text transform="translate(1154,1478) rotate(-50)">40</text><text transform="translate(1181,1478) rotate(-50)">100</text><text transform="translate(1208,1478) rotate(-50)">500</text><text transform="translate(1237,1478) rotate(-50)">2000</text><text transform="translate(1283,1478) rotate(-50)">0</text><text transform="translate(1311,1478) rotate(-50)">40</text><text transform="translate(1339,1478) rotate(-50)">100</text><text transform="translate(1367,1478) rotate(-50)">500</text><text transform="translate(1394,1478) rotate(-50)">2000</text></g>
<text x="1177" y="1536" text-anchor="middle" font-size="17">GGAAAG Probe</text>
<text x="1330" y="1536" text-anchor="middle" font-size="17">GGTTAG Probe</text>
</svg>
</body></html>
